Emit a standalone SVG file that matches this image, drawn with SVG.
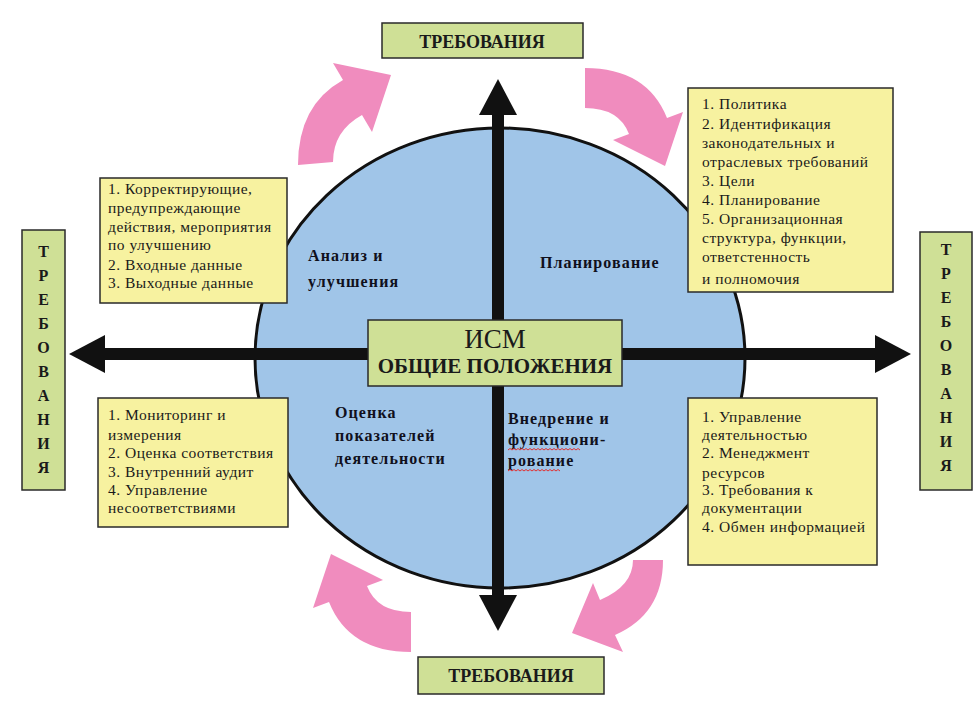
<svg xmlns="http://www.w3.org/2000/svg" width="975" height="709" viewBox="0 0 975 709">
<style>
.req{fill:#cfe096;stroke:#2a2a2a;stroke-width:1.5}
.reqt{font-family:"Liberation Serif","DejaVu Serif",serif;font-weight:bold;font-size:18px;fill:#1a1a1a;text-anchor:middle}
.reqv{font-family:"Liberation Serif","DejaVu Serif",serif;font-weight:bold;font-size:16px;fill:#1a1a1a;text-anchor:middle}
.note{fill:#f7f2a0;stroke:#2a2a2a;stroke-width:1.5}
.nt{font-family:"Liberation Serif","DejaVu Serif",serif;font-size:15.5px;fill:#1a1a1a;letter-spacing:0.5px}
.ql{font-family:"Liberation Serif","DejaVu Serif",serif;font-weight:bold;font-size:16px;fill:#10101c;letter-spacing:1.1px}
.pink{fill:#f08cbe}
.axis{stroke:#111;stroke-width:12;fill:none}
.sq{stroke:#e03030;stroke-width:1;fill:none}
</style>
<defs>
<marker id="head" viewBox="0 0 36 38" refX="1" refY="19" markerWidth="36" markerHeight="38" markerUnits="userSpaceOnUse" orient="auto">
<path d="M0,0 L36,19 L0,38 Z" fill="#111"/>
</marker>
</defs>
<rect width="975" height="709" fill="#ffffff"/>
<g id="circle">
<ellipse cx="500" cy="358" rx="245" ry="230" fill="#a0c5e8" stroke="#111" stroke-width="3"/>
</g>
<g id="connectors">
<line class="axis" x1="498" y1="354" x2="498" y2="114" marker-end="url(#head)"/>
<line class="axis" x1="498" y1="354" x2="498" y2="596" marker-end="url(#head)"/>
<line class="axis" x1="498" y1="354" x2="104" y2="354" marker-end="url(#head)"/>
<line class="axis" x1="498" y1="354" x2="876" y2="354" marker-end="url(#head)"/>
<path class="pink" d="M298,165 Q298,105 343,80 L333,63 L391,75 L372,132 L362,115 Q333,131 333,162 Z"/>
<path class="pink" d="M585,68 Q647,68 667,118 L683,112 L665,166 L613,140 L629,134 Q619,108 585,108 Z"/>
<path class="pink" d="M633,560 L663,560 Q663,614 615,635 L623,652 L572,633 L593,583 L600,600 Q633,586 633,560 Z"/>
<path class="pink" transform="rotate(180 498 360)" d="M585,68 Q647,68 667,118 L683,112 L665,166 L613,140 L629,134 Q619,108 585,108 Z"/>
</g>
<g id="quadrant-analysis">
<text class="ql" x="308" y="261">Анализ и</text>
<text class="ql" x="308" y="287">улучшения</text>
</g>
<g id="quadrant-planning">
<text class="ql" x="540" y="268">Планирование</text>
</g>
<g id="quadrant-evaluation">
<text class="ql" x="335" y="418">Оценка</text>
<text class="ql" x="335" y="441">показателей</text>
<text class="ql" x="335" y="464">деятельности</text>
</g>
<g id="quadrant-implementation">
<text class="ql" x="508" y="424">Внедрение и</text>
<text class="ql" x="508" y="445">функциони-</text>
<text class="ql" x="508" y="466">рование</text>
<path class="sq" d="M508,450 l2,-1.5 l2,1.5 l2,-1.5 l2,1.5 l2,-1.5 l2,1.5 l2,-1.5 l2,1.5 l2,-1.5 l2,1.5 l2,-1.5 l2,1.5 l2,-1.5 l2,1.5 l2,-1.5 l2,1.5 l2,-1.5 l2,1.5 l2,-1.5 l2,1.5 l2,-1.5 l2,1.5 l2,-1.5 l2,1.5 l2,-1.5 l2,1.5 l2,-1.5 l2,1.5 l2,-1.5 l2,1.5 l2,-1.5 l2,1.5 l2,-1.5 l2,1.5 l2,-1.5 l2,1.5"/>
<path class="sq" d="M508,471 l2,-1.5 l2,1.5 l2,-1.5 l2,1.5 l2,-1.5 l2,1.5 l2,-1.5 l2,1.5 l2,-1.5 l2,1.5 l2,-1.5 l2,1.5 l2,-1.5 l2,1.5 l2,-1.5 l2,1.5 l2,-1.5 l2,1.5 l2,-1.5 l2,1.5 l2,-1.5 l2,1.5 l2,-1.5 l2,1.5 l2,-1.5 l2,1.5"/>
</g>
<g id="center">
<rect x="368" y="320" width="254" height="66" fill="#cfe096" stroke="#2a2a2a" stroke-width="1.5"/>
<text x="495" y="348" font-family="Liberation Serif, DejaVu Serif, serif" font-size="27" fill="#1a1a1a" text-anchor="middle">ИСМ</text>
<text x="495" y="373" font-family="Liberation Serif, DejaVu Serif, serif" font-size="21" font-weight="bold" fill="#1a1a1a" text-anchor="middle">ОБЩИЕ ПОЛОЖЕНИЯ</text>
</g>
<g id="req-top">
<rect class="req" x="382" y="23" width="201" height="35"/>
<text class="reqt" x="482" y="48">ТРЕБОВАНИЯ</text>
</g>
<g id="req-bottom">
<rect class="req" x="418" y="657" width="186" height="37"/>
<text class="reqt" x="511" y="682">ТРЕБОВАНИЯ</text>
</g>
<g id="req-left">
<rect class="req" x="22" y="230" width="43" height="260"/>
<text class="reqv" x="43.5" y="257">Т</text>
<text class="reqv" x="43.5" y="281">Р</text>
<text class="reqv" x="43.5" y="305">Е</text>
<text class="reqv" x="43.5" y="329">Б</text>
<text class="reqv" x="43.5" y="353">О</text>
<text class="reqv" x="43.5" y="377">В</text>
<text class="reqv" x="43.5" y="401">А</text>
<text class="reqv" x="43.5" y="425">Н</text>
<text class="reqv" x="43.5" y="449">И</text>
<text class="reqv" x="43.5" y="473">Я</text>
</g>
<g id="req-right">
<rect class="req" x="920" y="232" width="52" height="258"/>
<text class="reqv" x="946" y="255">Т</text>
<text class="reqv" x="946" y="279">Р</text>
<text class="reqv" x="946" y="303">Е</text>
<text class="reqv" x="946" y="327">Б</text>
<text class="reqv" x="946" y="351">О</text>
<text class="reqv" x="946" y="375">В</text>
<text class="reqv" x="946" y="399">А</text>
<text class="reqv" x="946" y="423">Н</text>
<text class="reqv" x="946" y="447">И</text>
<text class="reqv" x="946" y="471">Я</text>
</g>
<g id="box-planning">
<rect class="note" x="688" y="88" width="205" height="204"/>
<text class="nt" x="702" y="109">1. Политика</text>
<text class="nt" x="702" y="129">2. Идентификация</text>
<text class="nt" x="702" y="148">законодательных и</text>
<text class="nt" x="702" y="167">отраслевых требований</text>
<text class="nt" x="702" y="186">3. Цели</text>
<text class="nt" x="702" y="205">4. Планирование</text>
<text class="nt" x="702" y="224">5. Организационная</text>
<text class="nt" x="702" y="243">структура, функции,</text>
<text class="nt" x="702" y="262">ответстенность</text>
<text class="nt" x="702" y="284">и полномочия</text>
</g>
<g id="box-analysis">
<rect class="note" x="100" y="178" width="187" height="125"/>
<text class="nt" x="108" y="194">1. Корректирующие,</text>
<text class="nt" x="108" y="213">предупреждающие</text>
<text class="nt" x="108" y="232">действия, мероприятия</text>
<text class="nt" x="108" y="250">по улучшению</text>
<text class="nt" x="108" y="270">2. Входные данные</text>
<text class="nt" x="108" y="288">3. Выходные данные</text>
</g>
<g id="box-evaluation">
<rect class="note" x="98" y="398" width="190" height="129"/>
<text class="nt" x="108" y="420">1. Мониторинг и</text>
<text class="nt" x="108" y="440">измерения</text>
<text class="nt" x="108" y="458">2. Оценка соответствия</text>
<text class="nt" x="108" y="477">3. Внутренний аудит</text>
<text class="nt" x="108" y="495">4. Управление</text>
<text class="nt" x="108" y="513">несоответствиями</text>
</g>
<g id="box-implementation">
<rect class="note" x="688" y="398" width="189" height="167"/>
<text class="nt" x="702" y="422">1. Управление</text>
<text class="nt" x="702" y="440">деятельностью</text>
<text class="nt" x="702" y="458">2. Менеджмент</text>
<text class="nt" x="702" y="478">ресурсов</text>
<text class="nt" x="702" y="495">3. Требования к</text>
<text class="nt" x="702" y="513">документации</text>
<text class="nt" x="702" y="532">4. Обмен информацией</text>
</g>
</svg>
